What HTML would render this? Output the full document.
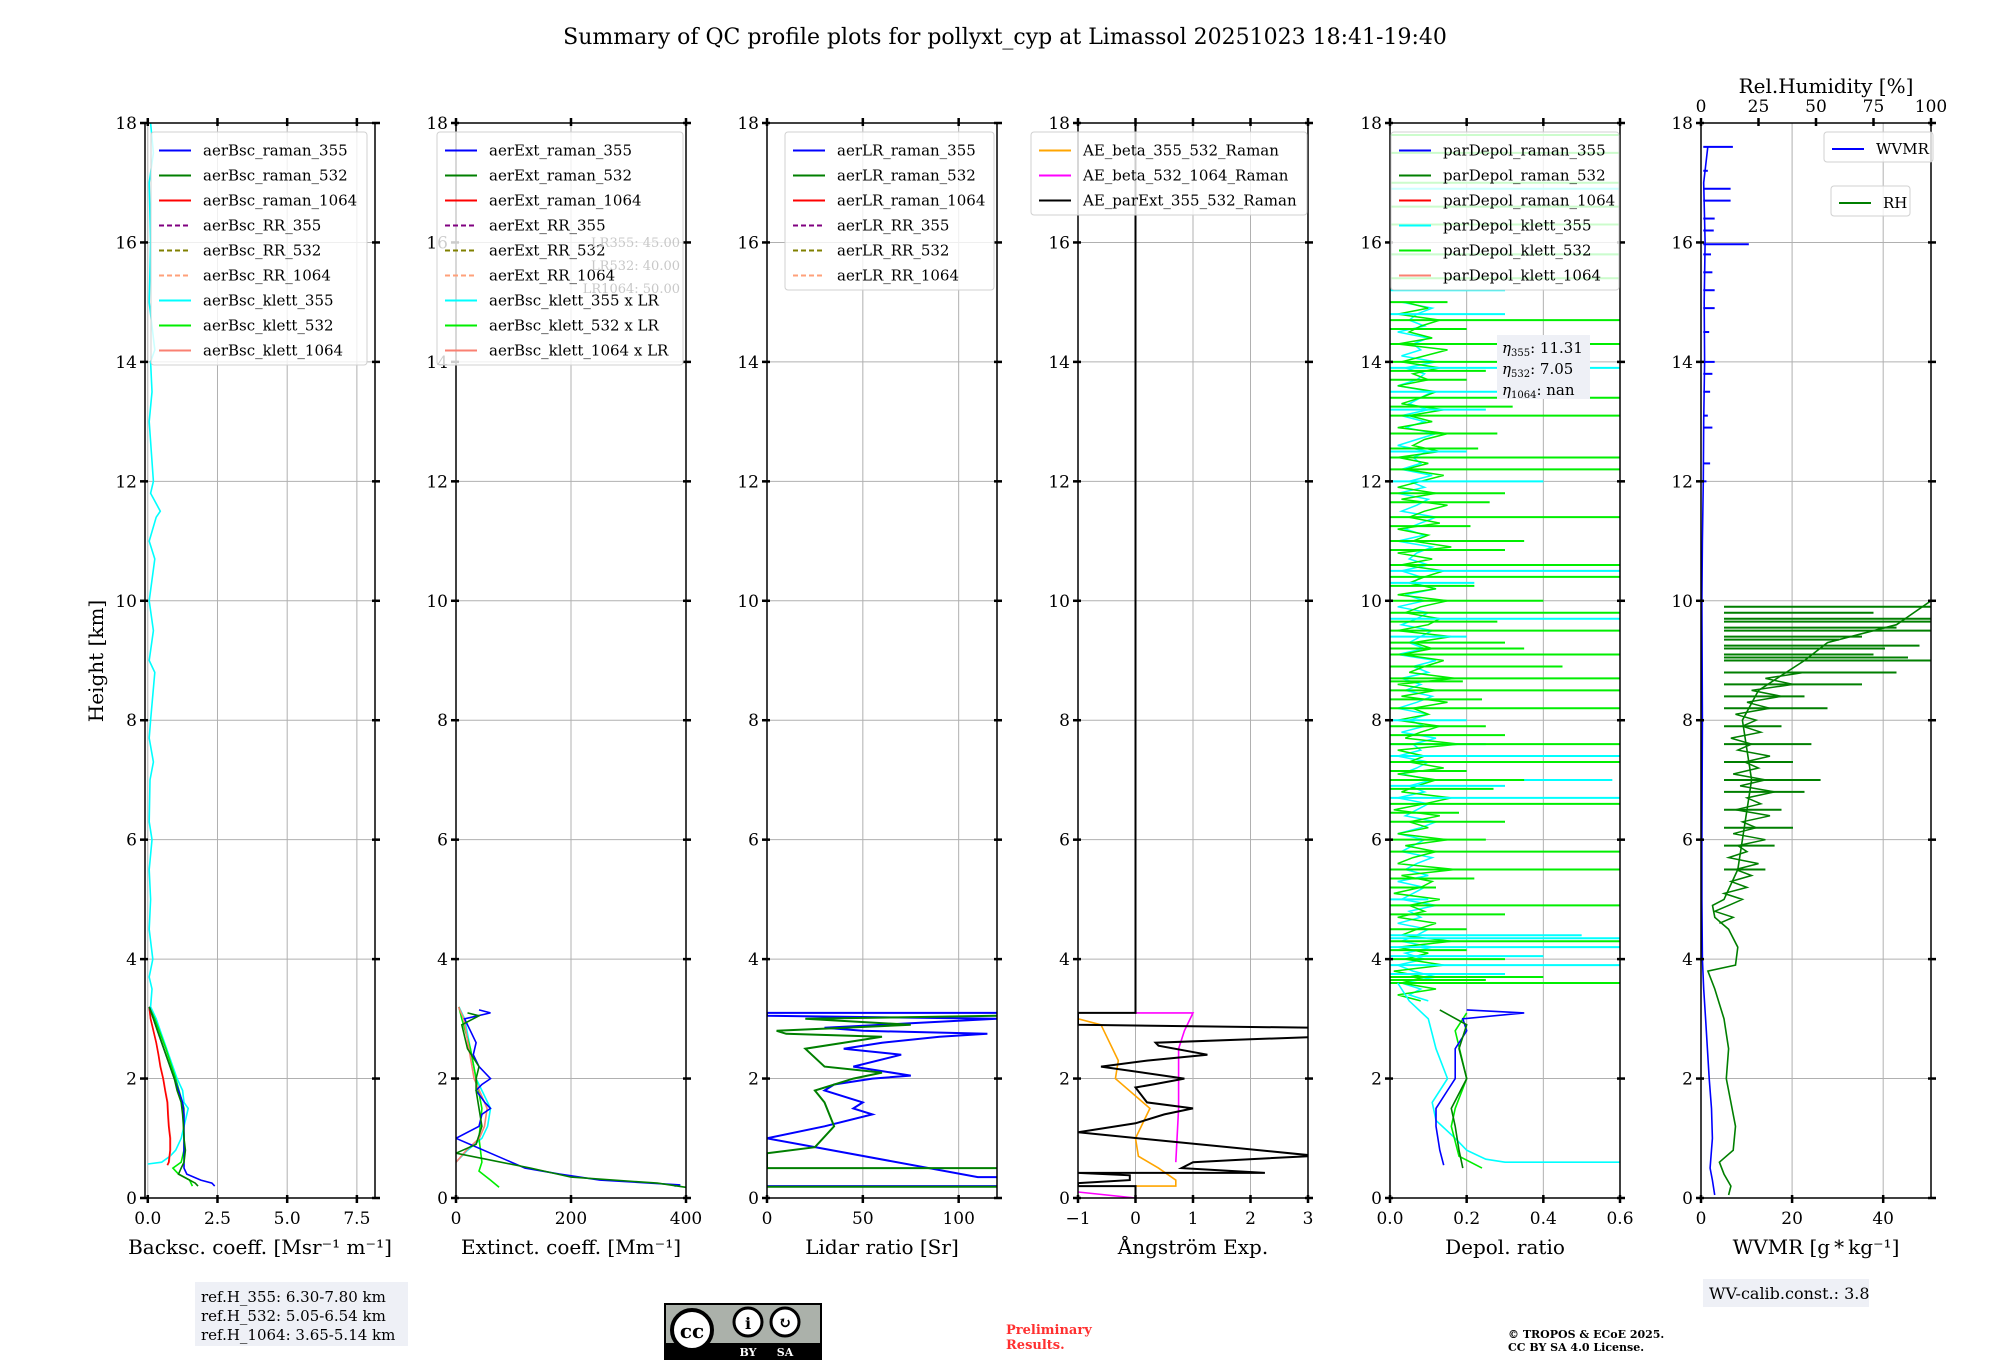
<!DOCTYPE html>
<html><head><meta charset="utf-8"><style>
body{margin:0;background:#fff;}
svg text{font-family:"DejaVu Serif","Liberation Serif",serif;}
</style></head><body>
<svg id="fig" xmlns="http://www.w3.org/2000/svg" width="2000" height="1360" viewBox="0 0 2000 1360">
<rect width="2000" height="1360" fill="#fff"/>
<text x="1005" y="44" font-size="22" text-anchor="middle">Summary of QC profile plots for pollyxt_cyp at Limassol 20251023 18:41-19:40</text>
<text transform="translate(103,661) rotate(-90)" font-size="20" text-anchor="middle">Height [km]</text>
<text x="1826" y="93" font-size="20" text-anchor="middle">Rel.Humidity [%]</text>
<g id="plots"></g>
<g>
<rect x="195" y="1282" width="213" height="64" fill="#eef0f6"/>
<text x="201" y="1302" font-size="15">ref.H_355: 6.30-7.80 km</text>
<text x="201" y="1321" font-size="15">ref.H_532: 5.05-6.54 km</text>
<text x="201" y="1340" font-size="15">ref.H_1064: 3.65-5.14 km</text>
</g>
<g>
<rect x="1703" y="1279" width="166" height="28" fill="#eef0f6"/>
<text x="1709" y="1299" font-size="16">WV-calib.const.: 3.8</text>
</g>
<g>
<rect x="665" y="1304" width="156" height="55" fill="#abb1aa" stroke="#000" stroke-width="2"/>
<rect x="665" y="1343" width="156" height="16" fill="#000"/>
<circle cx="692" cy="1330" r="20" fill="#fff" stroke="#000" stroke-width="4"/>
<text x="692" y="1338" font-size="20" font-weight="bold" text-anchor="middle" font-family="Liberation Sans">cc</text>
<circle cx="748" cy="1322" r="14" fill="#fff" stroke="#000" stroke-width="3"/>
<circle cx="785" cy="1322" r="14" fill="#fff" stroke="#000" stroke-width="3"/>
<text x="748" y="1329" font-size="16" font-weight="bold" text-anchor="middle">i</text>
<text x="785" y="1328" font-size="16" font-weight="bold" text-anchor="middle">↻</text>
<text x="748" y="1356" font-size="11" fill="#fff" text-anchor="middle" font-family="Liberation Sans" font-weight="bold">BY</text>
<text x="785" y="1356" font-size="11" fill="#fff" text-anchor="middle" font-family="Liberation Sans" font-weight="bold">SA</text>
</g>
<text x="1006" y="1334" font-size="13" font-weight="bold" fill="#ff3030">Preliminary</text>
<text x="1006" y="1349" font-size="13" font-weight="bold" fill="#ff3030">Results.</text>
<text x="1508" y="1338" font-size="11" font-weight="bold">© TROPOS &amp; ECoE 2025.</text>
<text x="1508" y="1351" font-size="11" font-weight="bold">CC BY SA 4.0 License.</text>
</svg>
<script>
// ---- data ----
const yTicks=[0,2,4,6,8,10,12,14,16,18];
const bscTicks=[0,2.5,5,7.5];
const bscTickLabels=["0.0","2.5","5.0","7.5"];
const extTicks=[0,200,400];
const lrTicks=[0,50,100];
const aeTicks=[-1,0,1,2,3];
const aeTickLabels=["\u22121","0","1","2","3"];
const depTicks=[0,0.2,0.4,0.6];
const depTickLabels=["0.0","0.2","0.4","0.6"];
const wvTicks=[0,20,40];
const rhTicks=[0,25,50,75,100];

const bscH355=[0.2,0.25,0.3,0.4,0.5,0.6,0.8,1.0,1.2,1.4,1.6,1.8,2.0,2.2,2.4,2.6,2.8,3.0,3.2];
const bscRaman355=[2.4,2.3,1.9,1.4,1.3,1.3,1.3,1.3,1.3,1.3,1.25,1.1,0.95,0.8,0.65,0.5,0.35,0.2,0.05];
const bscRaman532=[1.8,1.7,1.5,1.1,1.2,1.3,1.35,1.3,1.28,1.25,1.2,1.05,0.95,0.8,0.65,0.5,0.35,0.2,0.05];
const bscH1064=[0.55,0.6,0.8,1.0,1.2,1.4,1.6,1.8,2.0,2.2,2.4,2.6,2.8,3.0,3.2];
const bscRaman1064=[0.7,0.75,0.8,0.8,0.75,0.72,0.7,0.62,0.55,0.45,0.38,0.3,0.2,0.1,0.05];
const bscHk=[0.57,0.6,0.7,0.8,1.0,1.2,1.4,1.5,1.6,1.8,2.0,2.2,2.4,2.6,2.8,3.0,3.2,3.5,3.7,4.0,4.5,5,5.5,6,6.3,7,7.3,7.7,8,8.8,9,9.5,10,10.7,11,11.4,11.5,11.8,12,13,13.5,14,14.2,15,16,17,17.5,18];
const bscKlett355=[0,0.5,0.8,1.0,1.2,1.3,1.4,1.45,1.3,1.25,1.05,0.9,0.75,0.6,0.45,0.3,0.1,0.15,0.05,0.18,0.05,0.1,0.05,0.15,0.05,0.08,0.2,0.05,0.1,0.25,0.05,0.2,0.05,0.25,0.05,0.3,0.45,0.1,0.2,0.05,0.15,0.1,0.25,0.05,0.1,0.05,0.2,0.1];
const bscHk532=[0.2,0.3,0.4,0.5,0.6,0.8,1.0,1.2,1.5,2.0,2.5,3.0,3.2];
const bscKlett532=[1.6,1.5,1.1,0.9,1.2,1.3,1.3,1.28,1.3,1.0,0.65,0.25,0.05];

const extH355=[0.2,0.22,0.3,0.4,0.5,1.0,1.2,1.4,1.5,1.6,1.8,1.9,2.0,2.2,2.4,2.6,2.8,3.0,3.1,3.15];
const extRaman355=[380,390,250,180,120,0,40,45,60,50,35,45,60,40,30,35,25,15,60,40];
const extH532=[0.18,0.25,0.35,0.5,0.75,0.9,1.2,1.5,1.8,2.0,2.2,2.5,2.9,3.05,3.1];
const extRaman532=[400,350,200,130,0,35,45,40,35,35,40,20,10,40,20];
const extHk=[0.6,0.8,1.0,1.2,1.5,1.8,2.0,2.5,3.0,3.2];
const extKlett355=[0,20,45,55,60,45,35,25,15,5];
const extHk532=[0.18,0.3,0.45,0.6,1.0,1.5,2.0,2.5,3.0,3.2];
const extKlett532=[75,60,40,45,40,45,35,25,10,5];

const lrH355=[0.2,0.2,0.35,0.35,1.0,1.2,1.4,1.5,1.6,1.8,1.9,2.0,2.05,2.2,2.4,2.5,2.6,2.7,2.75,2.8,2.85,3.0,3.05,3.1,3.1];
const lrRaman355=[0,125,125,110,0,30,55,45,50,30,35,55,75,45,70,40,60,90,115,50,30,120,0,0,125];
const lrH532=[0.19,0.19,0.5,0.5,0.75,0.85,1.2,1.6,1.8,2.0,2.1,2.2,2.5,2.6,2.7,2.75,2.8,2.9,3.0,3.05];
const lrRaman532=[0,125,125,0,0,25,35,30,25,45,60,30,20,40,60,10,5,75,20,120];

const aeHbeta355=[0.2,0.2,0.3,0.5,0.7,1.0,1.5,2.0,2.3,2.7,2.9,3.0];
const aeBeta355=[0,0.7,0.7,0.4,0.05,0.0,0.25,-0.35,-0.3,-0.5,-0.6,-1];
const aeHbeta532=[0.6,1.5,2.5,2.8,3.1,3.1];
const aeBeta532=[0.7,0.75,0.75,0.85,1.0,0];
const aeHbeta532low=[0,0.1];
const aeBeta532low=[0,-1];
const aeHext=[0,0.2,0.2,0.25,0.3,0.38,0.42,0.42,0.5,0.6,0.7,0.7,1.1,1.25,1.4,1.5,1.6,1.85,1.9,2.0,2.2,2.3,2.4,2.55,2.6,2.7,2.85,2.9,3.1,3.1,18];
const aeParExt=[0,0,-1,-1,-0.1,-0.1,-1,2.25,0.8,1.0,3,3.2,-1,0.0,0.5,1.0,0.2,0.0,0.3,0.85,-0.6,0.2,1.25,0.4,0.35,3.2,3.2,-1,-1,0,0];

const depH355=[0.55,0.8,1.2,1.5,1.8,2.0,2.5,2.8,3.0,3.1,3.15];
const depRaman355=[0.14,0.13,0.12,0.12,0.15,0.17,0.17,0.2,0.19,0.35,0.2];
const depH532=[0.5,0.8,1.2,1.5,2.0,2.5,2.9,3.15];
const depRaman532=[0.19,0.18,0.17,0.16,0.2,0.18,0.2,0.13];
const depHk355=[0.6,0.6,0.65,0.8,1.0,1.3,1.6,2.0,2.5,3.0,3.3,3.6];
const depKlett355=[0.6,0.3,0.25,0.2,0.17,0.12,0.11,0.15,0.12,0.1,0.05,0.02];
const depHk532=[0.5,0.7,1.2,1.5,2.0,2.8,3.1];
const depKlett532=[0.24,0.18,0.16,0.17,0.2,0.17,0.2];
const depNoiseH=[3.3,3.4,3.5,3.6,3.7,3.8,3.9,4.0,4.1,4.2,4.3,4.4,4.5,4.6,4.7,4.8,4.9,5.0,5.1,5.2,5.3,5.4,5.5,5.6,5.7,5.8,5.9,6.0,6.1,6.2,6.3,6.4,6.5,6.6,6.7,6.8,6.9,7.0,7.1,7.2,7.3,7.4,7.5,7.6,7.7,7.8,7.9,8.0,8.1,8.2,8.3,8.4,8.5,8.6,8.7,8.8,8.9,9.0,9.1,9.2,9.3,9.4,9.5,9.6,9.7,9.8,9.9,10.0,10.1,10.2,10.3,10.4,10.5,10.6,10.7,10.8,10.9,11.0,11.1,11.2,11.3,11.4,11.5,11.6,11.7,11.8,11.9,12.0,12.1,12.2,12.3,12.4,12.5,12.6,12.7,12.8,12.9,13.0,13.1,13.2,13.3,13.4,13.5,13.6,13.7,13.8,13.9,14.0,14.1,14.2,14.3,14.4,14.5,14.6,14.7,14.8,14.9,15.0];
const depNoise532=[0.08,0.02,0.12,0.03,0.09,0.01,0.14,0.04,0.1,0.02,0.16,0.03,0.07,0.12,0.02,0.09,0.05,0.13,0.01,0.08,0.11,0.03,0.17,0.02,0.06,0.12,0.04,0.15,0.02,0.1,0.05,0.13,0.01,0.09,0.16,0.03,0.07,0.12,0.02,0.14,0.05,0.09,0.02,0.18,0.04,0.08,0.13,0.02,0.1,0.06,0.15,0.03,0.12,0.02,0.17,0.05,0.09,0.14,0.03,0.11,0.06,0.16,0.02,0.1,0.13,0.04,0.08,0.15,0.02,0.12,0.05,0.09,0.14,0.03,0.11,0.02,0.16,0.06,0.1,0.02,0.13,0.05,0.09,0.15,0.03,0.12,0.02,0.08,0.14,0.04,0.1,0.02,0.13,0.06,0.09,0.15,0.02,0.11,0.05,0.14,0.03,0.08,0.12,0.02,0.1,0.06,0.13,0.03,0.09,0.15,0.02,0.11,0.05,0.08,0.13,0.02,0.1,0.04];
const depNoise355=[0.1,0.05,0.08,0.03,0.12,0.06,0.02,0.09,0.04,0.11,0.03,0.07,0.1,0.02,0.08,0.05,0.12,0.03,0.06,0.09,0.02,0.1,0.04,0.07,0.11,0.03,0.06,0.09,0.02,0.08,0.12,0.04,0.07,0.1,0.02,0.09,0.05,0.11,0.03,0.07,0.1,0.02,0.08,0.06,0.12,0.03,0.09,0.05,0.1,0.02,0.07,0.11,0.04,0.08,0.03,0.1,0.06,0.12,0.02,0.09,0.05,0.08,0.11,0.03,0.07,0.1,0.02,0.09,0.04,0.12,0.06,0.08,0.03,0.1,0.05,0.07,0.11,0.02,0.09,0.04,0.08,0.12,0.03,0.07,0.1,0.02,0.09,0.05,0.11,0.03,0.08,0.06,0.1,0.02,0.07,0.12,0.04,0.09,0.03,0.1,0.05,0.08,0.11,0.02,0.07,0.09,0.04,0.12,0.03,0.08,0.06,0.1,0.02,0.09,0.05,0.07,0.11,0.03];
const depSpikeH532=[3.6,3.7,4.0,4.3,4.5,4.9,5.2,5.5,5.8,6.0,6.3,6.6,7.0,7.3,7.6,7.9,8.2,8.5,8.7,8.9,9.1,9.3,9.5,9.8,10.0,10.4,10.6,11.0,11.4,11.8,12.2,12.4,12.8,13.1,13.4,13.7,14.0,14.3,14.7,15.0,15.4,15.8,16.3,16.6,17.0,17.5,17.8,3.65,4.15,4.75,5.35,6.45,6.85,7.15,7.75,8.35,8.65,9.2,9.65,10.25,10.85,11.25,11.65,12.55,13.25,13.85,14.55];
const depSpikeV532=[0.6,0.4,0.3,0.6,0.2,0.6,0.12,0.6,0.6,0.25,0.3,0.6,0.35,0.6,0.6,0.25,0.6,0.6,0.6,0.45,0.6,0.3,0.6,0.6,0.4,0.6,0.6,0.35,0.6,0.3,0.6,0.6,0.28,0.6,0.6,0.2,0.3,0.6,0.6,0.15,0.6,0.6,0.6,0.6,0.6,0.6,0.6,0.25,0.2,0.3,0.22,0.18,0.27,0.2,0.3,0.24,0.19,0.35,0.28,0.22,0.3,0.21,0.26,0.23,0.32,0.25,0.2];
const depSpikeH355=[3.9,4.2,4.35,5.0,6.7,7.0,7.4,8.0,9.7,10.5,10.6,12.0,13.5,13.9,14.8,15.8,16.9,3.75,4.05,4.4,6.9,7.6,9.4,10.3,12.5,13.2,15.2];
const depSpikeV355=[0.6,0.6,0.6,0.1,0.6,0.58,0.6,0.2,0.6,0.6,0.6,0.4,0.35,0.6,0.3,0.6,0.6,0.3,0.4,0.5,0.3,0.25,0.2,0.22,0.2,0.25,0.3];

const wvH=[0.05,0.3,0.5,1.0,1.5,2.0,2.5,3.0,3.5,4.0,5,6,8,10,11,12,13,14,15,16,17,17.6];
const wvmr=[3,2.5,2,2.5,2.3,1.8,1.4,1,0.6,0.3,0.2,0.2,0.3,0.2,0.3,0.5,0.6,0.8,0.7,0.9,0.6,1.5];
const wvSpikeH=[12.0,12.9,13.5,14.0,14.9,15.5,15.97,16.4,16.7,16.9,17.6,12.3,13.1,13.8,14.5,15.2,15.8,16.2,17.2];
const wvSpikeV=[1.2,2.5,2.0,3.0,3.0,2.5,10.5,3.0,6.5,6.5,7.0,2.0,1.5,2.5,1.8,3.0,2.2,2.8,1.5];
const rhH=[0.05,0.2,0.4,0.6,0.8,1.2,1.6,2.0,2.5,3.0,3.5,3.8,3.9,4.2,4.5,4.7,4.9,5.0,5.5,6.0,6.5,7.0,7.5,8.0,8.5,9.0,9.3,9.6,10.0];
const rhVals=[12,13,10,8,14,15,13,11,12,10,6,3,15,16,12,6,5,10,16,18,20,22,20,18,25,45,55,85,100];
const rhNoiseH=[4.6,4.7,4.8,4.9,5.0,5.1,5.2,5.3,5.4,5.5,5.6,5.7,5.8,5.9,6.0,6.1,6.2,6.3,6.4,6.5,6.6,6.7,6.8,6.9,7.0,7.1,7.2,7.3,7.4,7.5,7.6,7.7,7.8,7.9,8.0,8.1,8.2,8.3,8.4,8.5,8.6,8.7,8.8];
const rhNoise=[8,14,6,12,18,10,20,13,22,15,25,12,20,16,28,14,24,18,30,15,26,20,32,17,28,14,25,19,30,16,22,13,26,18,24,15,30,20,35,22,40,28,45];
const rhSpikeH=[5.5,5.9,6.2,6.5,6.8,7.0,7.3,7.6,7.9,8.2,8.4,8.6,8.8,9.0,9.1,9.2,9.4,9.5,9.7,9.9,9.05,9.25,9.35,9.55,9.65,9.8];
const rhSpikeV=[28,32,40,35,45,52,40,48,35,55,45,70,85,100,75,80,70,100,100,100,90,95,60,85,100,75];

// ---- layout ----
const NS="http://www.w3.org/2000/svg";
const TOP=123,BOT=1198,W=230;
const panelLeft=[145,456,767,1078,1390,1701];
const root=document.getElementById('plots');
function mk(tag,attrs,parent){const e=document.createElementNS(NS,tag);for(const k in attrs)e.setAttribute(k,attrs[k]);(parent||root).appendChild(e);return e;}
function yS(h){return BOT-(h/18)*(BOT-TOP);}

function panel(i,xmin,xmax,ticks,labels,title){
  const L=panelLeft[i];
  const g=mk('g',{});
  
  
  const xS=v=>L+(v-xmin)/(xmax-xmin)*W;
  ticks.forEach(t=>{const l=mk('line',{x1:xS(t),x2:xS(t),y1:TOP,y2:BOT,stroke:'#b0b0b0','stroke-width':1},g);
    });
  yTicks.forEach(t=>{const l=mk('line',{x1:L,x2:L+W,y1:yS(t),y2:yS(t),stroke:'#b0b0b0','stroke-width':1},g);
    });
  const clip=mk('clipPath',{id:'clip'+i},g);mk('rect',{x:L,y:TOP,width:W,height:BOT-TOP},clip);
  const series=mk('g',{'clip-path':'url(#clip'+i+')'},g);
  
  const ax=mk('g',{},g);
  
  mk('rect',{x:L,y:TOP,width:W,height:BOT-TOP,fill:'none',stroke:'#000','stroke-width':1.5},ax);
  yTicks.forEach(t=>{
    mk('line',{x1:L-5,x2:L+3,y1:yS(t),y2:yS(t),stroke:'#000','stroke-width':2.5},ax);
    mk('line',{x1:L+W-3,x2:L+W+5,y1:yS(t),y2:yS(t),stroke:'#000','stroke-width':2.5},ax);
    const tx=mk('text',{x:L-8,y:yS(t)+6,'font-size':17,'text-anchor':'end'},ax);tx.textContent=t;
    
  });
  ticks.forEach((t,k)=>{
    mk('line',{x1:xS(t),x2:xS(t),y1:BOT-3,y2:BOT+5,stroke:'#000','stroke-width':2.5},ax);
    if(i<5) mk('line',{x1:xS(t),x2:xS(t),y1:TOP-5,y2:TOP+3,stroke:'#000','stroke-width':2.5},ax);
    const tx=mk('text',{x:xS(t),y:BOT+26,'font-size':17,'text-anchor':'middle'},ax);tx.textContent=labels?labels[k]:t;
    
  });
  const tt=mk('text',{x:L+W/2,y:BOT+56,'font-size':20,'text-anchor':'middle'},ax);tt.textContent=title;
  
  return {xS,series,g,L};
}
function line(p,hs,vs,color,name,w,dash){
  const d=hs.map((h,k)=>(k?'L':'M')+p.xS(vs[k]).toFixed(1)+' '+yS(h).toFixed(1)).join(' ');
  const e=mk('path',{d:d,fill:'none',stroke:color,'stroke-width':w||1.6},p.series);
  if(dash)e.setAttribute('stroke-dasharray',dash);
  
  
}
function spikes(p,hs,vs,color,name,base){
  hs.forEach((h,k)=>{
    const e=mk('line',{x1:p.xS(base),x2:p.xS(vs[k]),y1:yS(h),y2:yS(h),stroke:color,'stroke-width':2},p.series);
    
    
  });
}
function legend(x,y,w,items,fs,rowH){
  const g=mk('g',{});
  
  
  mk('rect',{x:x,y:y,width:w,height:items.length*rowH+8,fill:'rgba(255,255,255,0.8)',stroke:'#d0d0d0',rx:3},g);
  items.forEach((it,k)=>{
    const cy=y+6+rowH*k+rowH/2;
    const l=mk('line',{x1:x+8,x2:x+40,y1:cy,y2:cy,stroke:it[1],'stroke-width':2},g);
    if(it[2])l.setAttribute('stroke-dasharray','5,3');
    const t=mk('text',{x:x+52,y:cy+5,'font-size':fs},g);t.textContent=it[0];
    
  });
}

// panel 1
let p=panel(0,-0.1,8.15,bscTicks,bscTickLabels,'Backsc. coeff. [Msr\u207B\u00B9 m\u207B\u00B9]');
line(p,bscHk,bscKlett355,'#00ffff','bsc-klett-355');
line(p,bscHk532,bscKlett532,'#00ee00','bsc-klett-532');
line(p,bscH1064,bscRaman1064.map(v=>v*1.02),'#fa8072','bsc-klett-1064');
line(p,bscH1064,bscRaman1064,'#ff0000','bsc-raman-1064');
line(p,bscH355,bscRaman355,'#0000ff','bsc-raman-355');
line(p,bscH355,bscRaman532,'#007f00','bsc-raman-532');
legend(151,132,216,[['aerBsc_raman_355','#0000ff'],['aerBsc_raman_532','#007f00'],['aerBsc_raman_1064','#ff0000'],['aerBsc_RR_355','#800080',1],['aerBsc_RR_532','#808000',1],['aerBsc_RR_1064','#ffa07a',1],['aerBsc_klett_355','#00ffff'],['aerBsc_klett_532','#00ee00'],['aerBsc_klett_1064','#fa8072']],15,25);

// panel 2
p=panel(1,0,400,extTicks,null,'Extinct. coeff. [Mm\u207B\u00B9]');
line(p,extHk,extKlett355,'#00ffff','ext-klett-355');
line(p,extHk532,extKlett532,'#00ee00','ext-klett-532');
line(p,extHk,extKlett355.map(v=>v*0.9),'#fa8072','ext-klett-1064');
line(p,extH355,extRaman355,'#0000ff','ext-raman-355');
line(p,extH532,extRaman532,'#007f00','ext-raman-532');
legend(437,132,246,[['aerExt_raman_355','#0000ff'],['aerExt_raman_532','#007f00'],['aerExt_raman_1064','#ff0000'],['aerExt_RR_355','#800080',1],['aerExt_RR_532','#808000',1],['aerExt_RR_1064','#ffa07a',1],['aerBsc_klett_355 x LR','#00ffff'],['aerBsc_klett_532 x LR','#00ee00'],['aerBsc_klett_1064 x LR','#fa8072']],15,25);
let lr=mk('g',{});


['LR355: 45.00','LR532: 40.00','LR1064: 50.00'].forEach((s,k)=>{const t=mk('text',{x:680,y:247+k*23,'font-size':13,fill:'#c8c8c8','text-anchor':'end'},lr);t.textContent=s;});

// panel 3
p=panel(2,0,120,lrTicks,null,'Lidar ratio [Sr]');
line(p,lrH355,lrRaman355,'#0000ff','lr-raman-355',2);
line(p,lrH532,lrRaman532,'#007f00','lr-raman-532',2);
legend(785,132,209,[['aerLR_raman_355','#0000ff'],['aerLR_raman_532','#007f00'],['aerLR_raman_1064','#ff0000'],['aerLR_RR_355','#800080',1],['aerLR_RR_532','#808000',1],['aerLR_RR_1064','#ffa07a',1]],15,25);

// panel 4
p=panel(3,-1,3,aeTicks,aeTickLabels,'\u00C5ngstr\u00F6m Exp.');
line(p,aeHbeta355,aeBeta355,'#ffa500','ae-beta-355-532');
line(p,aeHbeta532,aeBeta532,'#ff00ff','ae-beta-532-1064');
line(p,aeHbeta532low,aeBeta532low,'#ff00ff','ae-beta-532-1064-low');
line(p,aeHext,aeParExt,'#000000','ae-parext-355-532',2);
legend(1031,132,276,[['AE_beta_355_532_Raman','#ffa500'],['AE_beta_532_1064_Raman','#ff00ff'],['AE_parExt_355_532_Raman','#000000']],15,25);

// panel 5
p=panel(4,0,0.6,depTicks,depTickLabels,'Depol. ratio');
line(p,depNoiseH,depNoise355,'#00ffff','depol-klett-355-noise',1.5);
line(p,depNoiseH,depNoise532,'#00ee00','depol-klett-532-noise',1.5);
spikes(p,depSpikeH355,depSpikeV355,'#00ffff','depol-klett-355-spike',0);
spikes(p,depSpikeH532,depSpikeV532,'#00ee00','depol-klett-532-spike',0);
line(p,depHk355,depKlett355,'#00ffff','depol-klett-355');
line(p,depHk532,depKlett532,'#00ee00','depol-klett-532');
line(p,depH355,depRaman355,'#0000ff','depol-raman-355');
line(p,depH532,depRaman532,'#007f00','depol-raman-532');
legend(1391,132,228,[['parDepol_raman_355','#0000ff'],['parDepol_raman_532','#007f00'],['parDepol_raman_1064','#ff0000'],['parDepol_klett_355','#00ffff'],['parDepol_klett_532','#00ee00'],['parDepol_klett_1064','#fa8072']],15,25);
let eb=mk('g',{});


mk('rect',{x:1497,y:335,width:93,height:64,fill:'#eef0f6'},eb);
[['355','11.31'],['532','7.05'],['1064','nan']].forEach((s,k)=>{const t=mk('text',{x:1502,y:353+k*21,'font-size':15},eb);
  const a=mk('tspan',{'font-style':'italic'},t);a.textContent='\u03B7';
  const b=mk('tspan',{'font-size':10,dy:3},t);b.textContent=s[0];
  const c=mk('tspan',{dy:-3},t);c.textContent=': '+s[1];});

// panel 6
p=panel(5,0,50.5,wvTicks,null,'WVMR [g\u2009*\u2009kg\u207B\u00B9]');
const rhX=v=>panelLeft[5]+v/100*W;
const rhP={xS:rhX,series:p.series};
spikes(rhP,rhSpikeH,rhSpikeV,'#007f00','rh-spike',10);
line(rhP,rhNoiseH,rhNoise,'#007f00','rh-noise',1.5);
line(rhP,rhH,rhVals,'#007f00','rh-profile');
spikes(p,wvSpikeH,wvSpikeV,'#0000ff','wvmr-spike',0.5);
line(p,wvH,wvmr,'#0000ff','wvmr-profile');
rhTicks.forEach(t=>{
  mk('line',{x1:rhX(t),x2:rhX(t),y1:TOP-5,y2:TOP+3,stroke:'#000','stroke-width':2.5});
  const tx=mk('text',{x:rhX(t),y:TOP-11,'font-size':17,'text-anchor':'middle'});tx.textContent=t;
  
});
legend(1824,132,109,[['WVMR','#0000ff']],15,22);
legend(1831,186,79,[['RH','#007f00']],15,22);
</script>
</body></html>
